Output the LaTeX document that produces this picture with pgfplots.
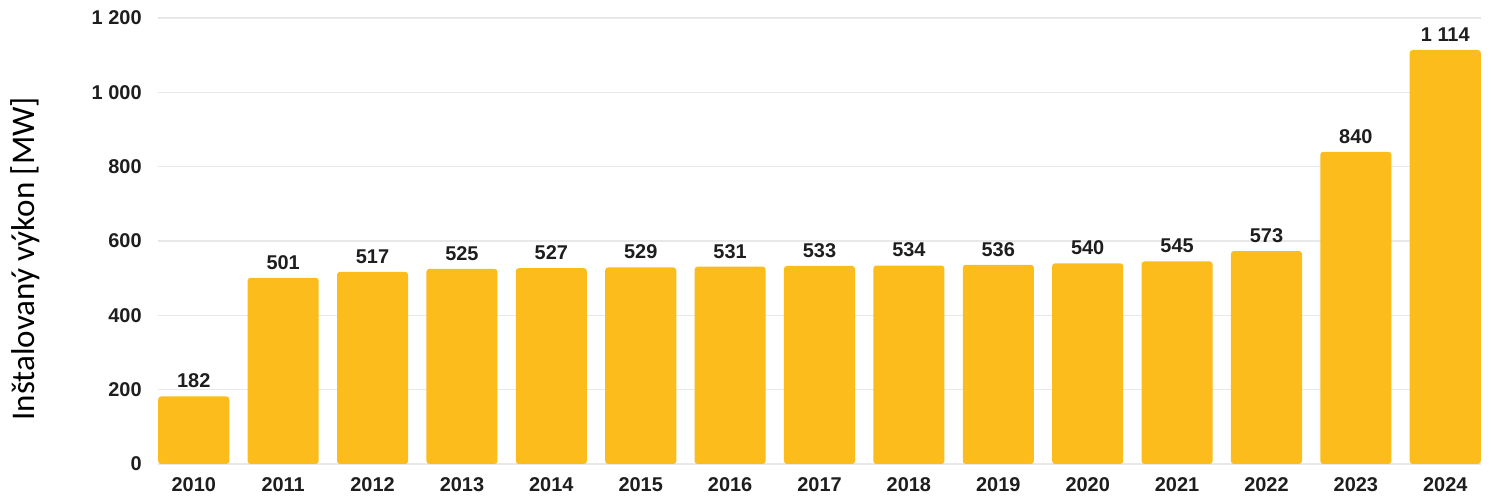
\documentclass[border=0pt]{standalone}
\usepackage{fontspec}
\setmainfont{Liberation Sans}
\newfontfamily\labelfont{Carlito}
\usepackage{pgfplots}
\pgfplotsset{compat=1.18}
\definecolor{baryellow}{RGB}{251,188,28}
\definecolor{gridgray}{RGB}{232,232,232}
\definecolor{txt}{RGB}{30,30,30}
\begin{document}
\begin{tikzpicture}
\useasboundingbox (0,0) rectangle (745.5bp,250.5bp);
\begin{axis}[
  at={(79bp,18.5bp)}, anchor=south west,
  width=661.5bp, height=223bp, scale only axis,
  xmin=-0.4, xmax=14.4, ymin=0, ymax=1200,
  axis line style={draw=none},
  ytick={0,200,...,1200},
  xtick=data,
  xticklabels={2010,2011,2012,2013,2014,2015,2016,2017,2018,2019,2020,2021,2022,2023,2024},
  major tick length=0pt,
  ymajorgrids, grid style={gridgray, line width=0.6bp},
  /pgf/number format/assume math mode=true,
  /pgf/number format/1000 sep={\hspace{0.28em}},
  ticklabel style={font=\bfseries\fontsize{10}{11}\selectfont, text=txt},
  yticklabel style={anchor=east, inner sep=0pt, xshift=-8bp},
  xticklabel style={anchor=north, inner sep=0pt, yshift=-6.5bp},
  ylabel={Inštalovaný výkon [MW]},
  ylabel style={font=\labelfont\fontsize{16.6}{19}\selectfont, text=black, at={(axis description cs:-0.1005,0.46)}, anchor=center},
  ybar, bar width=0.795,
  nodes near coords,
  every node near coord/.append style={font=\bfseries\fontsize{10}{11}\selectfont, text=txt, anchor=south, inner sep=0pt, yshift=4bp},
]
\addplot[fill=baryellow, draw=none, rounded corners=1.5bp] coordinates {
(0,182) (1,501) (2,517) (3,525) (4,527) (5,529) (6,531) (7,533) (8,534) (9,536) (10,540) (11,545) (12,573) (13,840) (14,1114)};
\end{axis}
\end{tikzpicture}
\end{document}
